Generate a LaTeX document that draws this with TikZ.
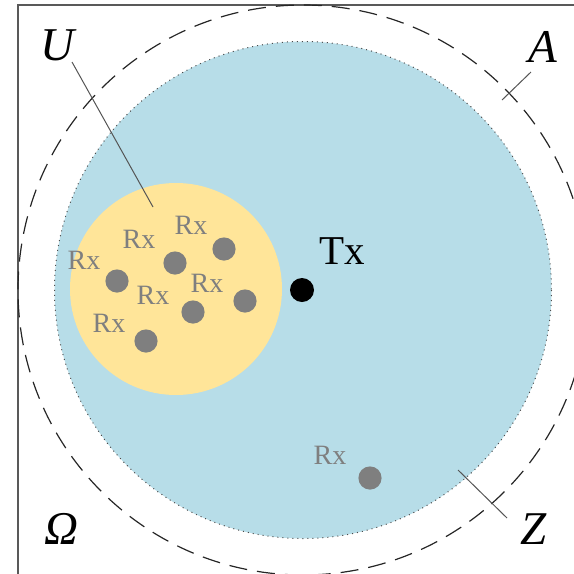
\documentclass[tikz,border=0pt]{standalone}
\usepackage{fontspec}
\setmainfont{Liberation Serif}
\begin{document}
\begin{tikzpicture}[x=0.5pt,y=-0.5pt,
  rxdot/.style={circle,fill=dotgray,minimum size=11.6pt,inner sep=0pt},
  rxlab/.style={text=dotgray,inner sep=0pt,font=\fontsize{14pt}{15pt}\selectfont},
  biglab/.style={inner sep=0pt,font=\fontsize{23.5pt}{24pt}\selectfont\itshape},
  leader/.style={draw=leadgray,line width=0.5pt}]
\definecolor{dotgray}{HTML}{7F7F7F}
\definecolor{leadgray}{HTML}{555555}
\definecolor{bluefill}{HTML}{B7DDE8}
\definecolor{yellowfill}{HTML}{FFE599}
\useasboundingbox (0,0) rectangle (574,574);
\begin{scope}
\clip (0,0) rectangle (574,574);
\draw[draw=black!65,line width=0.8pt] (18,700) -- (18,5) -- (700,5);
\draw[draw=black!85,line width=0.6pt,dash pattern=on 9pt off 5pt] (303,290) circle[radius=285];
\end{scope}
\fill[bluefill] (303,290) circle[radius=248.5];
\draw[draw=black!70,line width=0.5pt,dotted] (303,290) circle[radius=248.5];
\fill[yellowfill] (176,289) circle[radius=106];
% dots
\node[rxdot] (d1) at (117,281) {};
\node[rxdot] (d2) at (175,263) {};
\node[rxdot] (d3) at (224,249) {};
\node[rxdot] (d4) at (193,312) {};
\node[rxdot] (d5) at (245,301) {};
\node[rxdot] (d6) at (146,341) {};
\node[rxdot] (d7) at (370,478) {};
\node[circle,fill=black,minimum size=12pt,inner sep=0pt] (tx) at (302,290) {};
% labels
\node[rxlab] (l1) at (84,260) {Rx};
\node[rxlab] (l2) at (139,239) {Rx};
\node[rxlab] (l3) at (191,225) {Rx};
\node[rxlab] (l4) at (153,295) {Rx};
\node[rxlab] (l5) at (207,283) {Rx};
\node[rxlab] (l6) at (109,323) {Rx};
\node[rxlab] (l7) at (330,455) {Rx};
\node[inner sep=0pt,font=\fontsize{20.5pt}{21pt}\selectfont] (txl) at (342,251) {Tx};
\node[biglab] (U) at (57,45) {U};
\node[biglab] (A) at (543,47) {A};
\node[biglab] (O) at (61,529) {Ω};
\node[biglab] (Z) at (534,529) {Z};
% leaders
\coordinate (u1) at (72,62); \coordinate (u2) at (153,207);
\coordinate (a1) at (502,100); \coordinate (a2) at (531,72);
\coordinate (z1) at (458,470); \coordinate (z2) at (507,518);
\draw[leader] (u1) -- (u2);
\draw[leader] (a1) -- (a2);
\draw[leader] (z1) -- (z2);
\end{tikzpicture}
\end{document}
